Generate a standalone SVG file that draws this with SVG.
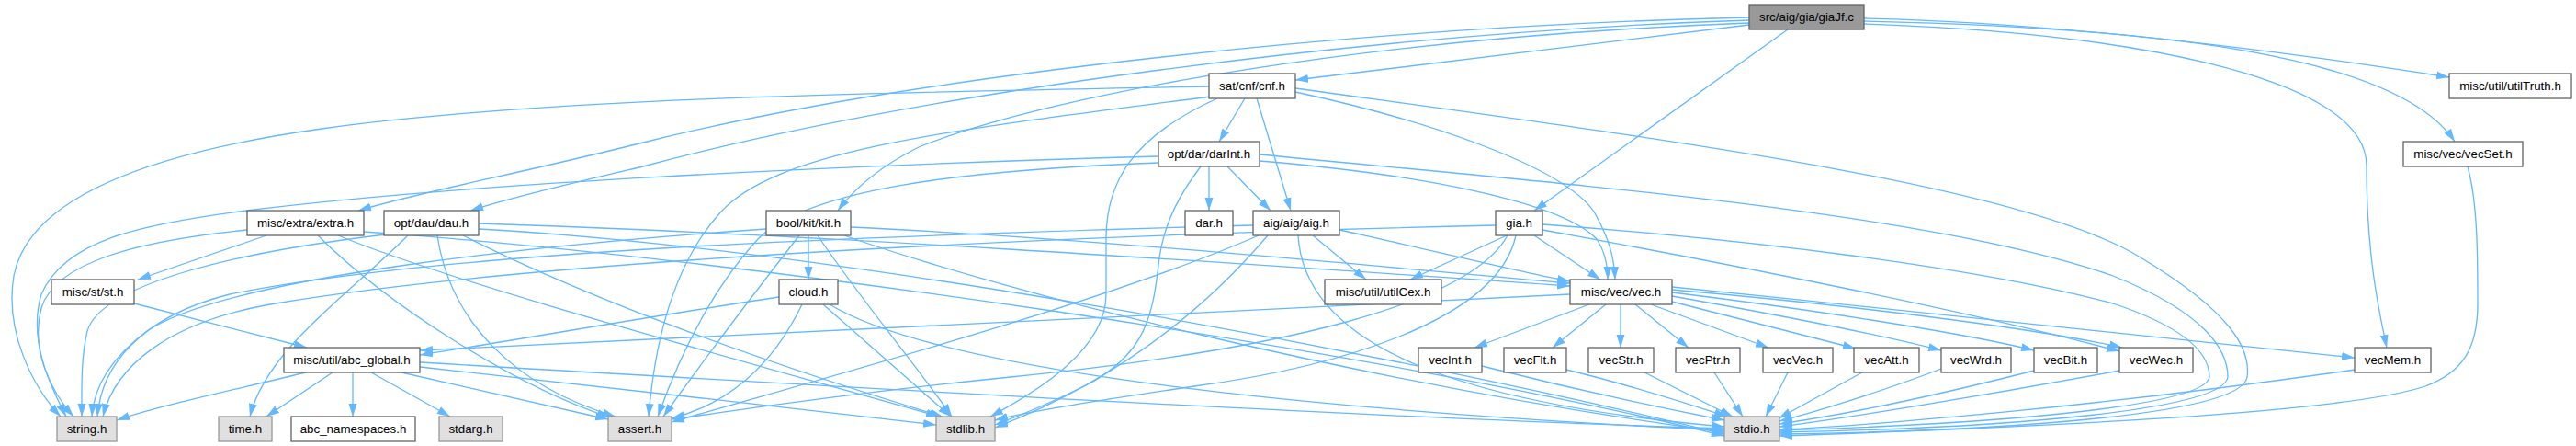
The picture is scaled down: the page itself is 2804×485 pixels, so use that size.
<svg xmlns="http://www.w3.org/2000/svg" width="2804" height="485" viewBox="0 0 2804 485">
<defs>
<style>
.n rect{fill:#fff;stroke:#666;stroke-width:1.33}
.s rect{fill:#e0e0e0;stroke:#999;stroke-width:1.33}
.r rect{fill:#999;stroke:#666;stroke-width:1.33}
text{font-family:"Liberation Sans",Arial,Helvetica,sans-serif;font-size:13.33px;text-anchor:middle;fill:#000}
#edges path{fill:none;stroke:#63b8ff;stroke-width:1.3;marker-end:url(#a)}
</style>
<marker id="a" markerUnits="userSpaceOnUse" markerWidth="15" markerHeight="10" refX="14" refY="5" orient="auto"><path d="M0,0.5 L14,5 L0,9.5 z" fill="#63b8ff"/></marker>
</defs>
<rect width="2804" height="485" fill="#fff"/>
<g id="edges">
<path d="M1946,32 L1670,229"/>
<path d="M1904,27 C1750,45 1560,70 1410,87"/>
<path d="M1904,19 C1500,28 1000,80 700,155 C560,190 460,208 390,229"/>
<path d="M1904,22 C1500,35 1000,100 700,181 C620,200 560,214 512,229"/>
<path d="M1904,25 C1500,40 1150,100 1000,160 C960,180 930,205 912,229"/>
<path d="M2029,20 C2250,25 2480,55 2666,84"/>
<path d="M2029,23 C2350,30 2610,60 2672,154"/>
<path d="M2029,26 C2300,35 2576,80 2576,180 C2576,280 2590,340 2598,378"/>
<path d="M1316,94 C1000,100 600,105 350,140 C150,168 30,220 15,300 C5,360 35,420 66,453"/>
<path d="M1318,105 C1050,140 850,160 785,230 C730,290 712,380 706,453"/>
<path d="M1325,107 C1230,150 1204,200 1204,260 L1204,320 C1204,380 1130,425 1078,453"/>
<path d="M1368,107 L1405,229"/>
<path d="M1355,107 L1327,154"/>
<path d="M1410,100 C1550,130 1700,180 1735,230 C1752,260 1757,280 1758,304"/>
<path d="M1410,96 C1800,150 2200,200 2330,280 C2430,340 2450,380 2446,410 C2440,450 2200,468 1937,472"/>
<path d="M1316,181 L1316,229"/>
<path d="M1336,181 L1383,229"/>
<path d="M1261,170 C900,180 500,200 268,229 C150,244 70,262 45,320 C30,370 55,420 72,453"/>
<path d="M1261,177 C1050,185 880,205 825,260 C770,320 735,400 716,453"/>
<path d="M1307,181 C1285,210 1268,240 1262,280 C1255,340 1250,385 1180,420 C1140,440 1110,452 1083,462"/>
<path d="M1371,175 C1550,190 1700,220 1738,260 C1748,275 1750,290 1750,304"/>
<path d="M1371,168 C1700,200 2100,230 2300,300 C2400,340 2425,380 2425,410 C2420,445 2200,465 1937,470"/>
<path d="M2686,181 C2697,220 2697,280 2697,330 C2697,380 2680,405 2640,420 C2550,450 2200,465 1937,474"/>
<path d="M290,256 L150,304"/>
<path d="M269,250 C150,262 60,285 45,335 C33,380 55,425 80,453"/>
<path d="M346,256 C420,330 560,420 664,454"/>
<path d="M368,256 C500,310 800,390 1022,453"/>
<path d="M396,252 C800,280 1500,380 1877,474"/>
<path d="M420,255 C250,275 110,310 95,360 C88,390 89,420 89,453"/>
<path d="M444,256 C380,320 290,380 272,453"/>
<path d="M476,256 C490,350 560,420 670,453"/>
<path d="M504,256 C650,330 850,400 1026,453"/>
<path d="M521,243 C900,255 1400,290 1709,311"/>
<path d="M521,249 C900,270 1500,380 1877,472"/>
<path d="M834,249 C600,265 250,300 160,360 C120,390 102,420 100,453"/>
<path d="M870,256 C820,320 760,400 722,453"/>
<path d="M880,256 L880,304"/>
<path d="M890,256 C940,330 1000,400 1036,453"/>
<path d="M919,256 C1100,320 1500,420 1877,470"/>
<path d="M926,247 C1200,260 1500,290 1709,308"/>
<path d="M1364,245 C1000,255 500,270 250,320 C150,345 110,400 106,453"/>
<path d="M1370,256 C1200,330 900,410 731,459"/>
<path d="M1380,256 C1300,350 1200,420 1083,465"/>
<path d="M1413,256 C1420,380 1600,440 1877,464"/>
<path d="M1458,250 C1550,270 1650,295 1709,306"/>
<path d="M1429,256 L1487,304"/>
<path d="M1640,256 L1535,304"/>
<path d="M1670,256 L1742,304"/>
<path d="M1628,245 C1200,255 600,280 300,330 C180,350 125,400 112,453"/>
<path d="M1641,256 C1600,330 1400,380 1100,410 C900,430 800,447 731,456"/>
<path d="M1650,256 C1630,350 1450,400 1300,420 C1200,435 1120,447 1083,457"/>
<path d="M1679,250 C1900,290 2150,340 2307,382"/>
<path d="M1679,244 C1900,260 2150,290 2300,330 C2390,360 2405,390 2405,410 C2400,440 2200,460 1937,468"/>
<path d="M146,330 L334,378"/>
<path d="M848,323 C700,345 550,372 457,386"/>
<path d="M873,331 C840,400 790,440 731,455"/>
<path d="M896,331 L1035,453"/>
<path d="M903,331 C1000,390 1300,440 1877,468"/>
<path d="M333,405 C250,425 170,442 127,457"/>
<path d="M362,405 L290,453"/>
<path d="M384,405 L384,453"/>
<path d="M404,405 L490,453"/>
<path d="M437,405 L662,456"/>
<path d="M457,399 C600,415 850,442 1019,462"/>
<path d="M457,394 C900,420 1500,455 1877,466"/>
<path d="M1709,320 C1300,340 800,366 457,381"/>
<path d="M1730,331 L1605,378"/>
<path d="M1748,331 L1690,378"/>
<path d="M1764,331 L1764,378"/>
<path d="M1780,331 L1838,378"/>
<path d="M1797,331 L1925,378"/>
<path d="M1820,328 L2020,379"/>
<path d="M1820,322 C1950,345 2050,365 2113,381"/>
<path d="M1820,318 C2000,340 2150,365 2214,381"/>
<path d="M1820,315 C2050,335 2230,360 2310,378"/>
<path d="M1820,312 C2100,340 2400,370 2563,389"/>
<path d="M1613,398 C1700,420 1800,442 1877,457"/>
<path d="M1705,402 C1780,420 1840,440 1880,453"/>
<path d="M1790,405 L1886,453"/>
<path d="M1866,405 L1897,453"/>
<path d="M1946,405 L1922,453"/>
<path d="M2027,405 L1936,455"/>
<path d="M2113,401 C2050,425 1980,447 1937,458"/>
<path d="M2214,403 C2100,432 2000,452 1937,461"/>
<path d="M2307,403 C2150,432 2000,456 1937,464"/>
<path d="M2563,402 C2300,440 2050,462 1937,467"/>
</g>
<g id="n_giaJf" class="r"><rect x="1904" y="5" width="125" height="27"/><text x="1966.5" y="23">src/aig/gia/giaJf.c</text></g>
<g id="n_cnf" class="n"><rect x="1316" y="80" width="94" height="27"/><text x="1363" y="98">sat/cnf/cnf.h</text></g>
<g id="n_utilTruth" class="n"><rect x="2666" y="80" width="133" height="27"/><text x="2732.5" y="98">misc/util/utilTruth.h</text></g>
<g id="n_darInt" class="n"><rect x="1261" y="154" width="110" height="27"/><text x="1316" y="172">opt/dar/darInt.h</text></g>
<g id="n_vecSet" class="n"><rect x="2616" y="154" width="130" height="27"/><text x="2681" y="172">misc/vec/vecSet.h</text></g>
<g id="n_extra" class="n"><rect x="269" y="229" width="127" height="27"/><text x="332.5" y="247">misc/extra/extra.h</text></g>
<g id="n_dau" class="n"><rect x="418" y="229" width="103" height="27"/><text x="469.5" y="247">opt/dau/dau.h</text></g>
<g id="n_kit" class="n"><rect x="834" y="229" width="92" height="27"/><text x="880" y="247">bool/kit/kit.h</text></g>
<g id="n_dar" class="n"><rect x="1290" y="229" width="52" height="27"/><text x="1316" y="247">dar.h</text></g>
<g id="n_aig" class="n"><rect x="1364" y="229" width="94" height="27"/><text x="1411" y="247">aig/aig/aig.h</text></g>
<g id="n_gia" class="n"><rect x="1628" y="229" width="51" height="27"/><text x="1653.5" y="247">gia.h</text></g>
<g id="n_st" class="n"><rect x="56" y="304" width="90" height="27"/><text x="101" y="322">misc/st/st.h</text></g>
<g id="n_cloud" class="n"><rect x="848" y="304" width="64" height="27"/><text x="880" y="322">cloud.h</text></g>
<g id="n_utilCex" class="n"><rect x="1442" y="304" width="127" height="27"/><text x="1505.5" y="322">misc/util/utilCex.h</text></g>
<g id="n_vec" class="n"><rect x="1709" y="304" width="111" height="27"/><text x="1764.5" y="322">misc/vec/vec.h</text></g>
<g id="n_abc_global" class="n"><rect x="309" y="378" width="148" height="27"/><text x="383" y="396">misc/util/abc_global.h</text></g>
<g id="n_vecInt" class="n"><rect x="1544" y="378" width="69" height="27"/><text x="1578.5" y="396">vecInt.h</text></g>
<g id="n_vecFlt" class="n"><rect x="1637" y="378" width="68" height="27"/><text x="1671" y="396">vecFlt.h</text></g>
<g id="n_vecStr" class="n"><rect x="1729" y="378" width="71" height="27"/><text x="1764.5" y="396">vecStr.h</text></g>
<g id="n_vecPtr" class="n"><rect x="1824" y="378" width="70" height="27"/><text x="1859" y="396">vecPtr.h</text></g>
<g id="n_vecVec" class="n"><rect x="1919" y="378" width="76" height="27"/><text x="1957" y="396">vecVec.h</text></g>
<g id="n_vecAtt" class="n"><rect x="2018" y="378" width="71" height="27"/><text x="2053.5" y="396">vecAtt.h</text></g>
<g id="n_vecWrd" class="n"><rect x="2113" y="378" width="76" height="27"/><text x="2151" y="396">vecWrd.h</text></g>
<g id="n_vecBit" class="n"><rect x="2214" y="378" width="69" height="27"/><text x="2248.5" y="396">vecBit.h</text></g>
<g id="n_vecWec" class="n"><rect x="2307" y="378" width="80" height="27"/><text x="2347" y="396">vecWec.h</text></g>
<g id="n_vecMem" class="n"><rect x="2563" y="378" width="83" height="27"/><text x="2604.5" y="396">vecMem.h</text></g>
<g id="n_string" class="s"><rect x="62" y="453" width="65" height="27"/><text x="94.5" y="471">string.h</text></g>
<g id="n_time" class="s"><rect x="238" y="453" width="58" height="27"/><text x="267" y="471">time.h</text></g>
<g id="n_abc_ns" class="n"><rect x="317" y="453" width="135" height="27"/><text x="384.5" y="471">abc_namespaces.h</text></g>
<g id="n_stdarg" class="s"><rect x="478" y="453" width="69" height="27"/><text x="512.5" y="471">stdarg.h</text></g>
<g id="n_assert" class="s"><rect x="662" y="453" width="69" height="27"/><text x="696.5" y="471">assert.h</text></g>
<g id="n_stdlib" class="s"><rect x="1019" y="453" width="64" height="27"/><text x="1051" y="471">stdlib.h</text></g>
<g id="n_stdio" class="s"><rect x="1877" y="453" width="60" height="27"/><text x="1907" y="471">stdio.h</text></g>
</svg>
